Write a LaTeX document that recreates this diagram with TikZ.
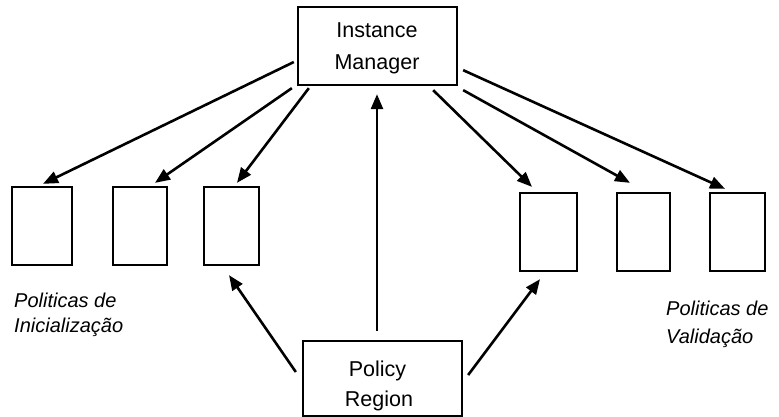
\documentclass[tikz,border=0pt]{standalone}
\usepackage{fontspec}
\setmainfont{Liberation Sans}
\usetikzlibrary{arrows.meta}
\begin{document}
\begin{tikzpicture}[x=1pt,y=-1pt,
  box/.style={draw, line width=2.3pt, inner sep=0pt},
  conn/.style={line width=2.6pt, -{Triangle[length=15pt,width=12pt]}},
  lbl/.style={font=\fontsize{21.5}{21.5}\selectfont, inner sep=0pt, anchor=base},
  captext/.style={font=\fontsize{20}{20}\selectfont\itshape, inner sep=0pt, anchor=base west}]
\useasboundingbox (0,0) rectangle (779,417);

% main boxes
\node[box, minimum width=159pt, minimum height=78pt] (im) at (377.5,46) {};
\node[lbl] (imt1) at (377,38) {Instance};
\node[lbl] (imt2) at (377,70) {Manager};

\node[box, minimum width=159pt, minimum height=75pt] (pr) at (382.5,378.5) {};
\node[lbl] (prt1) at (377.5,376) {Policy};
\node[lbl] (prt2) at (379,406) {Region};

% policy boxes
\node[box, minimum width=60pt, minimum height=78pt] (b1) at (42,226) {};
\node[box, minimum width=54pt, minimum height=78pt] (b2) at (140,226) {};
\node[box, minimum width=55pt, minimum height=78pt] (b3) at (231.5,226) {};
\node[box, minimum width=57pt, minimum height=78pt] (b4) at (548.5,232) {};
\node[box, minimum width=53pt, minimum height=78pt] (b5) at (643.5,232) {};
\node[box, minimum width=55pt, minimum height=78pt] (b6) at (737.5,232) {};

% captions
\node[captext] (c1) at (14,307) {Politicas de};
\node[captext] (c2) at (14,332) {Inicialização};
\node[captext] (c3) at (666,315) {Politicas de};
\node[captext] (c4) at (666,343) {Validação};

% connectors from the instance manager
\draw[conn] ([shift={(-3,16)}]im.west) -- ([shift={(1,-2)}]b1.north);
\draw[conn] ([shift={(-5,2)}]im.south west) -- ([shift={(15,-3)}]b2.north);
\draw[conn] ([shift={(12,2)}]im.south west) -- ([shift={(5.5,-3)}]b3.north);
\draw[conn] ([shift={(-25,4)}]im.south east) -- ([shift={(-16.5,-5)}]b4.north);
\draw[conn] ([shift={(5,4)}]im.south east) -- ([shift={(-13.5,-9)}]b5.north);
\draw[conn] ([shift={(5,-16)}]im.south east) -- ([shift={(-12.5,-3)}]b6.north);

% connectors from the policy region
\draw[conn] ([shift={(-5.5,-9)}]pr.north) -- ([shift={(-0.5,8)}]im.south);
\draw[conn] ([shift={(-6,-6.5)}]pr.west) -- ([shift={(-2.5,9)}]b3.south);
\draw[conn] ([shift={(5,-3.5)}]pr.east) -- ([shift={(-8.5,7)}]b4.south);
\end{tikzpicture}
\end{document}
